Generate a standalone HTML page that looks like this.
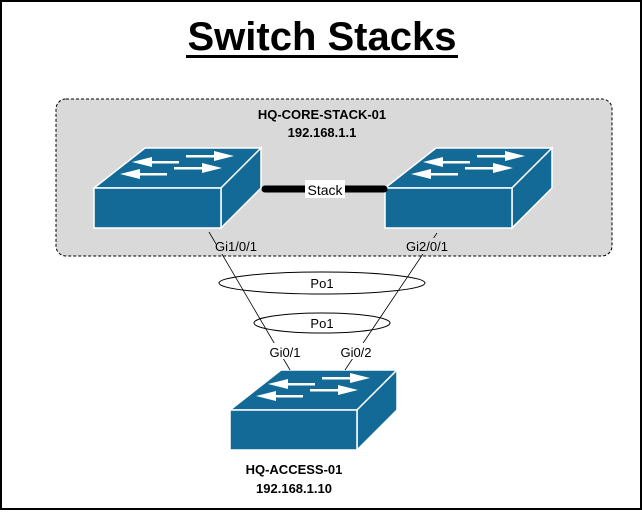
<!DOCTYPE html>
<html><head><style>
body{margin:0;background:#fff;}
svg text{font-family:"Liberation Sans",sans-serif;}
</style></head><body>
<svg width="642" height="510" viewBox="0 0 642 510" xmlns="http://www.w3.org/2000/svg">
<rect x="1" y="1" width="640" height="508" fill="#fff" stroke="#000" stroke-width="2"/>
<text x="322" y="50" font-size="40" font-weight="bold" text-anchor="middle">Switch Stacks</text>
<rect x="186" y="55" width="272" height="3" fill="#000"/>
<rect x="56" y="99" width="556" height="157" rx="10" fill="#d9d9d9" stroke="#000" stroke-dasharray="3,2"/>
<text x="322" y="119" font-size="13" font-weight="bold" text-anchor="middle">HQ-CORE-STACK-01</text>
<text x="322" y="137" font-size="13" font-weight="bold" text-anchor="middle">192.168.1.1</text>
<defs>
<g id="sw">
<polygon points="0,40 51,0 167,0 167,40 127,80 0,80" fill="#146a96"/>
<polygon points="0,40 51,0 167,0 127,40" fill="#146a96" stroke="#fff" stroke-width="1.5"/>
<polygon points="127,40 167,0 167,40 127,80" fill="#146a96" stroke="#fff" stroke-width="1.5"/>
<rect x="0" y="40" width="127" height="40" fill="#146a96" stroke="#fff" stroke-width="1.5"/>
<g fill="#fff">
<rect x="92" y="7" width="30" height="2.5"/><polygon points="120,3 140,8 120,13"/>
<rect x="80" y="19" width="30" height="2.5"/><polygon points="108,15 128,20 108,25"/>
<rect x="55" y="13" width="30" height="2.5"/><polygon points="58,9 38,14 58,19"/>
<rect x="43" y="25" width="30" height="2.5"/><polygon points="46,21 26,26 46,31"/>
</g>
</g>
</defs>
<use href="#sw" x="94" y="148"/>
<use href="#sw" x="385" y="148"/>
<use href="#sw" x="230" y="370"/>
<line x1="265" y1="189" x2="384" y2="189" stroke="#000" stroke-width="7" stroke-linecap="round"/>
<rect x="305" y="180" width="40" height="18" fill="#fff"/>
<text x="325" y="195" font-size="14" text-anchor="middle">Stack</text>
<line x1="209" y1="232" x2="290" y2="370" stroke="#000" stroke-width="0.8"/>
<line x1="437" y1="233" x2="345" y2="370" stroke="#000" stroke-width="0.8"/>
<ellipse cx="322" cy="283" rx="103" ry="11" fill="none" stroke="#000"/>
<ellipse cx="322" cy="323" rx="68" ry="10" fill="none" stroke="#000"/>
<rect x="306" y="275" width="32" height="16" fill="#fff"/>
<text x="322" y="288" font-size="13" text-anchor="middle">Po1</text>
<rect x="306" y="315" width="32" height="16" fill="#fff"/>
<text x="322" y="328" font-size="13" text-anchor="middle">Po1</text>
<rect x="216" y="238" width="40" height="16" fill="#d9d9d9"/>
<text x="236" y="251" font-size="13" text-anchor="middle">Gi1/0/1</text>
<rect x="402" y="238" width="50" height="16" fill="#d9d9d9"/>
<text x="427" y="251" font-size="13" text-anchor="middle">Gi2/0/1</text>
<rect x="266" y="343" width="38" height="16" fill="#fff"/>
<text x="285" y="357" font-size="13" text-anchor="middle">Gi0/1</text>
<rect x="337" y="343" width="38" height="16" fill="#fff"/>
<text x="356" y="357" font-size="13" text-anchor="middle">Gi0/2</text>
<text x="294" y="474" font-size="13" font-weight="bold" text-anchor="middle">HQ-ACCESS-01</text>
<text x="294" y="493" font-size="13" font-weight="bold" text-anchor="middle">192.168.1.10</text>
</svg>
</body></html>
